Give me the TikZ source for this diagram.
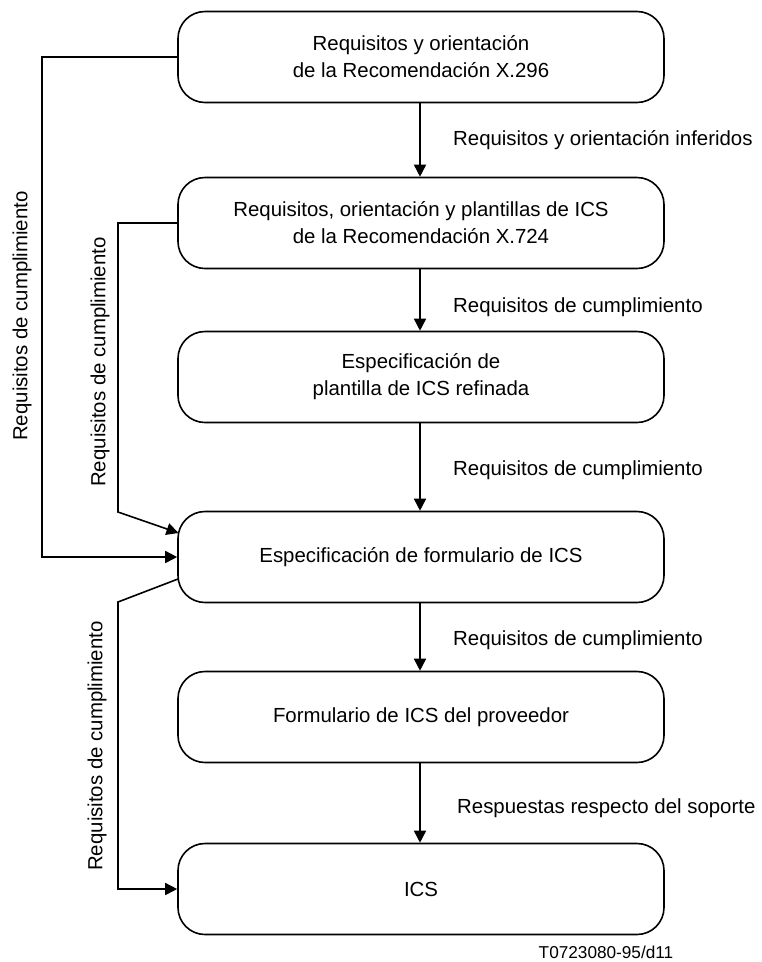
\documentclass[tikz,border=0pt]{standalone}
\usepackage{fontspec}
\setmainfont{Liberation Sans}
\usetikzlibrary{arrows.meta}
\begin{document}
\begin{tikzpicture}[x=1pt,y=-1pt,
  box/.style={draw,line width=1.6pt,rounded corners=27pt,minimum width=486pt,minimum height=91pt,align=center,font=\fontsize{20.4}{27}\selectfont},
  lbl/.style={anchor=west,font=\fontsize{20.4}{24}\selectfont,inner sep=0pt},
  vlbl/.style={rotate=90,font=\fontsize{20.4}{24}\selectfont,inner sep=0pt},
  conn/.style={line width=1.6pt,-{Triangle[length=12pt,width=12pt]}},
  plain/.style={line width=1.6pt}]
\useasboundingbox (0,0) rectangle (762,962);
\node[box] (b1) at (421,57) {Requisitos y orientación\\de la Recomendación X.296};
\node[box] (b2) at (421,223) {Requisitos, orientación y plantillas de ICS\\de la Recomendación X.724};
\node[box] (b3) at (421,377) {Especificación de\\plantilla de ICS refinada};
\node[box] (b4) at (421,557) {Especificación de formulario de ICS};
\node[box] (b5) at (421,717) {Formulario de ICS del proveedor};
\node[box] (b6) at (421,889) {ICS};

\draw[conn] (b1.south -| 420,0) -- (b2.north -| 420,0);
\draw[conn] (b2.south -| 420,0) -- (b3.north -| 420,0);
\draw[conn] (b3.south -| 420,0) -- (b4.north -| 420,0);
\draw[conn] (b4.south -| 420,0) -- (b5.north -| 420,0);
\draw[conn] (b5.south -| 420,0) -- (b6.north -| 420,0);

\node[lbl] (l1) at (453,140) {Requisitos y orientación inferidos};
\node[lbl] (l2) at (453,307) {Requisitos de cumplimiento};
\node[lbl] (l3) at (453,470) {Requisitos de cumplimiento};
\node[lbl] (l4) at (453,640) {Requisitos de cumplimiento};
\node[lbl] (l5) at (457,808) {Respuestas respecto del soporte};

% outer connector
\coordinate (o1) at (42,57);
\coordinate (o2) at (42,557);
\draw[conn] (b1.west) -- (o1) -- (o2) -- (b4.west);
% inner connector from box 2
\coordinate (i1) at (118,223);
\coordinate (i2) at (118,512);
\coordinate (i3) at (178.5,533);
\draw[conn] (b2.west) -- (i1) -- (i2) -- (i3);
% connector from box 4 to box 6
\coordinate (k0) at (178,579);
\coordinate (k1) at (118,602);
\coordinate (k2) at (118,889);
\draw[conn] (k0) -- (k1) -- (k2) -- (b6.west);

\node[vlbl] (v1) at (22,316) {Requisitos de cumplimiento};
\node[vlbl] (v2) at (100,362) {Requisitos de cumplimiento};
\node[vlbl] (v3) at (97,746) {Requisitos de cumplimiento};

\node[font=\fontsize{17.2}{20}\selectfont,inner sep=0pt] (fn) at (606,952) {T0723080-95/d11};
\end{tikzpicture}
\end{document}
